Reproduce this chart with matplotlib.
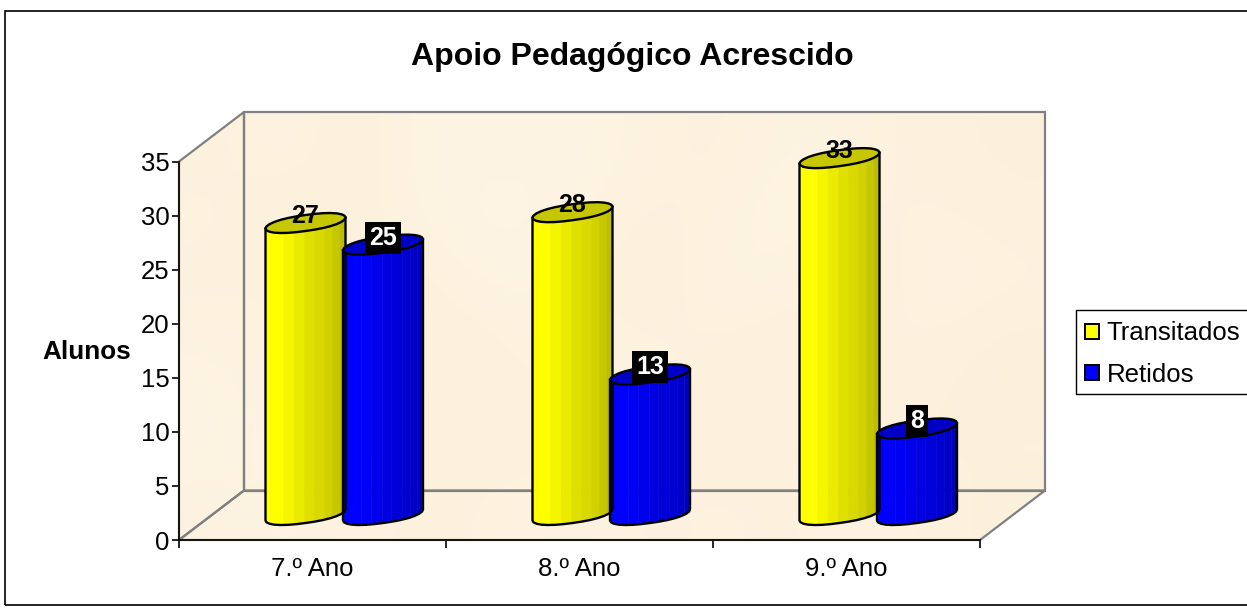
import matplotlib
matplotlib.use('Agg')
import matplotlib.pyplot as plt
import numpy as np
from matplotlib.colors import LinearSegmentedColormap
from matplotlib.patches import Patch, Polygon, Rectangle

plt.rcParams['font.family'] = ['Liberation Sans', 'DejaVu Sans']

W, H = 1247, 608

# Chart data
categories = ['7.º Ano', '8.º Ano', '9.º Ano']
transitados = [27, 28, 33]
retidos = [25, 13, 8]

# soft blotches of the wall picture
texture = [[.5, .7, .4, .8, .7, .8, .6, .5, .7, .6, .5, .4],
           [.6, .4, .5, .7, .9, .7, .5, .6, .8, .5, .6, .5],
           [.5, .6, .4, .5, .7, .6, .4, .7, .6, .4, .7, .6],
           [.7, .5, .6, .4, .5, .7, .6, .5, .4, .6, .5, .3],
           [.8, .6, .5, .6, .4, .5, .7, .4, .6, .5, .4, .5],
           [.6, .7, .6, .5, .6, .7, .5, .6, .5, .7, .5, .4]]

# facet edges across a column and their brightness
edges = [0, .23, .36, .49, .61, .74, .84, .93, 1]
shades = [1.0, .96, .92, .88, .85, .82, .78, .74]

fig = plt.figure(figsize=(W / 100, H / 100), dpi=100, facecolor='white')
ax = fig.add_axes([179 / W, (H - 540) / H, (980 - 179) / W, (540 - 161.5) / H])
ax.set_facecolor('none')

PX = 801 / 3            # pixels per category
PY = 378.5 / 35         # pixels per unit
DX, DY = 65 / PX, 49.5 / PY   # depth of the 3d box
ax.set_xlim(0, 3)
ax.set_ylim(0, 35)

# walls and floor
back = [(DX, DY), (3 + DX, DY), (3 + DX, 35 + DY), (DX, 35 + DY)]
side = [(0, 0), (DX, DY), (DX, 35 + DY), (0, 35)]
floor = [(0, 0), (3, 0), (3 + DX, DY), (DX, DY)]
cream = LinearSegmentedColormap.from_list('cream', ['#f9edd2', '#fff6e8'])
for shape in (back, side, floor):
    img = ax.imshow(texture, cmap=cream, vmin=0, vmax=1, interpolation='bicubic',
                    extent=(0, 3 + DX, 0, 35 + DY), aspect='auto', zorder=1)
    clip = Polygon(shape, transform=ax.transData, fill=False, edgecolor='none')
    ax.add_patch(clip)
    clip.set_clip_on(False)
    img.set_clip_path(clip)
    img.set_clip_box(fig.bbox)
    ax.add_patch(Polygon(shape, closed=True, fill=False, edgecolor='#808080', lw=1.6,
                         zorder=2, clip_on=False))
ax.set_xlim(0, 3)
ax.set_ylim(0, 35)


def column(x, value, base_color):
    # one faceted cylinder, x is the centre in category units
    half = 40 / PX
    base = 25 / PY
    slope = 5.5 / PY
    bulge = 8 / PY
    color = np.array(base_color, dtype=float)

    def low(u):
        return slope * u - bulge * (1 - np.abs(u) ** 2.4) ** 0.5

    def high(u):
        return slope * u + bulge * (1 - np.abs(u) ** 2.4) ** 0.5

    for i in range(len(shades)):
        us = np.linspace(edges[i], edges[i + 1], 4) * 2 - 1
        xs = x + us * half
        top = [(a, value + base + low(u)) for a, u in zip(xs, us)]
        bottom = [(a, base + low(u)) for a, u in zip(xs, us)]
        ax.add_patch(Polygon(top + bottom[::-1], closed=True, facecolor=color * shades[i],
                             edgecolor=color * shades[i], lw=0.4, zorder=3, clip_on=False))
    us = np.sin(np.linspace(-np.pi / 2, np.pi / 2, 15))
    outline = [(x - half, base + value + low(-1))]
    outline += [(x + u * half, base + low(u)) for u in us]
    outline += [(x + half, base + value + low(1))]
    ax.plot(*zip(*outline), color='black', lw=1.7, zorder=4, clip_on=False)
    lid = [(x + u * half, value + base + low(u)) for u in us]
    lid += [(x + u * half, value + base + high(u)) for u in us[::-1]]
    ax.add_patch(Polygon(lid, closed=True, facecolor=color * 0.78, edgecolor='black', lw=1.7,
                         zorder=4, clip_on=False))
    return value + base


YELLOW = (1, 1, 0)
BLUE = (0, 0, 1)
for i in range(len(categories)):
    x1 = i + 126.5 / PX
    x2 = i + 204 / PX
    y1 = column(x1, transitados[i], YELLOW)
    y2 = column(x2, retidos[i], BLUE)
    ax.annotate(str(transitados[i]), (x1, y1), xytext=(0, 7), textcoords='offset pixels',
                ha='center', va='center', fontsize=18, fontweight='bold', color='black',
                zorder=6, annotation_clip=False)
    ax.annotate(str(retidos[i]), (x2, y2), xytext=(0, 7), textcoords='offset pixels',
                ha='center', va='center', fontsize=18, fontweight='bold', color='white',
                zorder=6, annotation_clip=False,
                bbox=dict(boxstyle='square,pad=0.16', facecolor='black', edgecolor='none'))

# axes
for name in ('top', 'right'):
    ax.spines[name].set_visible(False)
for name in ('left', 'bottom'):
    ax.spines[name].set_linewidth(1.2)
    ax.spines[name].set_zorder(5)
ax.set_yticks(range(0, 36, 5))
ax.set_xticks(range(4))
ax.set_xticklabels([])
ax.set_xticks([0.5, 1.5, 2.5], minor=True)
ax.set_xticklabels(categories, minor=True)
ax.tick_params(axis='x', which='minor', length=0, pad=12, labelsize=18.5)
ax.tick_params(axis='x', which='major', length=6, width=1.2)
ax.tick_params(axis='y', length=5, width=1.2, labelsize=18.5, pad=2)

fig.text(632 / W, 1 - 57 / H, 'Apoio Pedagógico Acrescido', ha='center', va='center',
         fontsize=23, fontweight='bold')
fig.text(86.5 / W, 1 - 352 / H, 'Alunos', ha='center', va='center', fontsize=18.8, fontweight='bold')

# outer frame and legend box run off the right of the picture
fig.add_artist(Rectangle((5 / W, 1 - 605 / H), 1300 / W, 594 / H, transform=fig.transFigure,
                         fill=False, edgecolor='black', lw=1.2, zorder=0))
fig.add_artist(Rectangle((1076 / W, 1 - 394 / H), 200 / W, 84 / H, transform=fig.transFigure,
                         facecolor='white', edgecolor='black', lw=1.0, zorder=1))
handles = [Patch(facecolor=YELLOW, edgecolor='black', lw=1.4, label='Transitados'),
           Patch(facecolor=BLUE, edgecolor='black', lw=1.4, label='Retidos')]
fig.legend(handles=handles, loc='center left', bbox_to_anchor=(1085 / W, 1 - 354 / H), frameon=False,
           fontsize=18.5, handlelength=0.55, handleheight=0.55, handletextpad=0.3,
           labelspacing=0.67, borderpad=0, borderaxespad=0)

fig.savefig('out.png', dpi=100)
